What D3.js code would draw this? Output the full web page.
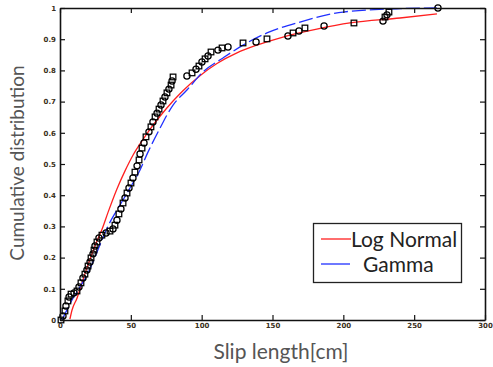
<!DOCTYPE html>
<html><head><meta charset="utf-8">
<script src="https://cdn.jsdelivr.net/npm/d3@7"></script>
<style>body{margin:0;background:#fff}svg{display:block}</style>
</head><body>
<script>
// Empirical data (slip length, cumulative probability)
const slipLength = [0.7,2.1,3.5,4.2,5.6,6.4,7.8,9.9,12,13.4,14.8,16.2,17.6,19,19.8,21.2,21.9,23.3,24,24.7,26.1,27.5,29.6,32.5,35.3,37.4,38.8,40.2,41.6,43,44.5,45.9,47.3,48.7,50.1,51.5,52.9,54.4,55.8,56.5,57.9,59.3,60.7,62.8,64.2,65.6,67.1,68.5,69.9,71.3,72.7,74.1,75.5,76.9,78.4,79.1,79.8,89.6,93.2,96,98.1,100.2,102.4,104.5,106.6,111.5,114.4,118.6,129.2,138.4,146.1,160.9,164.5,168.7,172.9,186.4,207.5,228,229.4,230.8,232.2,266.8];
const cumProb = [0,0.013,0.029,0.045,0.061,0.074,0.083,0.087,0.093,0.106,0.119,0.135,0.147,0.16,0.173,0.186,0.199,0.212,0.224,0.237,0.25,0.263,0.272,0.279,0.285,0.292,0.304,0.32,0.34,0.356,0.375,0.391,0.407,0.423,0.439,0.455,0.474,0.494,0.513,0.532,0.551,0.567,0.587,0.603,0.619,0.635,0.651,0.663,0.676,0.689,0.702,0.715,0.728,0.74,0.753,0.766,0.779,0.782,0.792,0.804,0.814,0.827,0.837,0.846,0.859,0.865,0.872,0.875,0.888,0.891,0.901,0.91,0.92,0.926,0.936,0.942,0.952,0.958,0.971,0.978,0.987,1.0];
// Log Normal fit curve
const logNormX = [7,8.5,12,15.5,19,22.6,26.1,29.6,33.9,40.2,45.9,51.5,57.9,63.5,70.6,79.8,86.8,98.8,110.8,124.9,139,157.4,182.1,204.7,240,266.1];
const logNormY = [0.003,0.032,0.07,0.119,0.167,0.212,0.253,0.29,0.345,0.42,0.478,0.528,0.574,0.611,0.653,0.702,0.735,0.783,0.822,0.856,0.881,0.907,0.933,0.952,0.968,0.981];
// Gamma fit curve
const gammaX = [1.4,4.2,8.5,14.1,19.8,24.7,29.6,33.9,42.4,49.4,56.5,62.1,70.6,79.8,89.6,100.9,115.1,129.2,146.1,169.4,199.8,240,266];
const gammaY = [0,0.026,0.064,0.106,0.15,0.202,0.256,0.301,0.369,0.423,0.481,0.538,0.615,0.689,0.737,0.795,0.84,0.881,0.92,0.955,0.987,0.998,1.0];
const xTicks = [0,50,100,150,200,250,300];
const yTicks = [0,0.1,0.2,0.3,0.4,0.5,0.6,0.7,0.8,0.9,1];
const seriesNames = ["Log Normal","Gamma"];

const W=493,H=367;
const m={left:60,right:8,top:8,bottom:47};
const svg=d3.select("body").append("svg").attr("width",W).attr("height",H);
const x=d3.scaleLinear().domain([0,300]).range([m.left,W-m.right]);
const y=d3.scaleLinear().domain([0,1]).range([H-m.bottom,m.top]);

const g=svg.append("g");
const line=(xs,ys)=>d3.line().x((d,i)=>x(xs[i])).y((d,i)=>y(ys[i])).curve(d3.curveMonotoneX)(xs);
g.append("path").attr("d",line(logNormX,logNormY)).attr("fill","none").attr("stroke","#ff2020").attr("stroke-width",1.3);
g.append("path").attr("d",line(gammaX,gammaY)).attr("fill","none").attr("stroke","#2030ff").attr("stroke-width",1.3).attr("stroke-dasharray","14,4");

// markers
const pts=slipLength.map((v,i)=>({v,p:cumProb[i],i}));
pts.forEach(d=>{
  if(d.i%2===0){
    g.append("rect").attr("x",x(d.v)-2.8).attr("y",y(d.p)-2.8).attr("width",5.6).attr("height",5.6)
      .attr("fill","none").attr("stroke","#000").attr("stroke-width",1.25);
  } else {
    g.append("circle").attr("cx",x(d.v)).attr("cy",y(d.p)).attr("r",3.1)
      .attr("fill","none").attr("stroke","#000").attr("stroke-width",1.25);
  }
});

// axes
const tickFont="bold 7px 'DejaVu Sans', sans-serif";
const ax=svg.append("g").attr("transform",`translate(0,${y(0)})`).call(d3.axisBottom(x).tickValues(xTicks).tickSizeInner(-5).tickSizeOuter(0).tickPadding(3).tickFormat(d3.format("d")));
const ay=svg.append("g").attr("transform",`translate(${x(0)},0)`).call(d3.axisLeft(y).tickValues(yTicks).tickSizeInner(-5).tickSizeOuter(0).tickPadding(4).tickFormat(d=>d===0?"0":d===1?"1":d3.format(".1f")(d)));
const at=svg.append("g").attr("transform",`translate(0,${y(1)})`).call(d3.axisTop(x).tickValues(xTicks).tickSizeInner(-5).tickSizeOuter(0).tickFormat(""));
const ar=svg.append("g").attr("transform",`translate(${x(300)},0)`).call(d3.axisRight(y).tickValues(yTicks).tickSizeInner(-5).tickSizeOuter(0).tickFormat(""));
[ax,ay,at,ar].forEach(a=>{
  a.select(".domain").attr("stroke","#111").attr("stroke-width",1.6);
  a.selectAll(".tick line").attr("stroke","#111").attr("stroke-width",1.2);
  a.selectAll(".tick text").attr("fill","#3a3020").style("font",tickFont);
});

// axis titles
svg.append("text").attr("x",281).attr("y",359).attr("text-anchor","middle")
  .style("font","21px Lato, 'Open Sans', sans-serif").attr("fill","#555").text("Slip length[cm]");
svg.append("text").attr("transform","translate(24,163) rotate(-90)").attr("text-anchor","middle")
  .style("font","19px Lato, 'Open Sans', sans-serif").attr("fill","#555").text("Cumulative distribution");

// legend
const lg=svg.append("g");
lg.append("rect").attr("x",313.5).attr("y",223.5).attr("width",148).attr("height",59).attr("fill","#fff").attr("stroke","#222").attr("stroke-width",1.3);
const lcol=["#ff2020","#2030ff"];
const ly=[239,264];
const ltx=[351,363];
seriesNames.forEach((n,i)=>{
  lg.append("line").attr("x1",321).attr("x2",i===0?351:350).attr("y1",ly[i]).attr("y2",ly[i]).attr("stroke",lcol[i]).attr("stroke-width",1.3);
  lg.append("text").attr("x",ltx[i]).attr("y",ly[i]+7.5).style("font","21px Lato, 'Open Sans', sans-serif").attr("fill","#222").text(n);
});
</script>
</body></html>
